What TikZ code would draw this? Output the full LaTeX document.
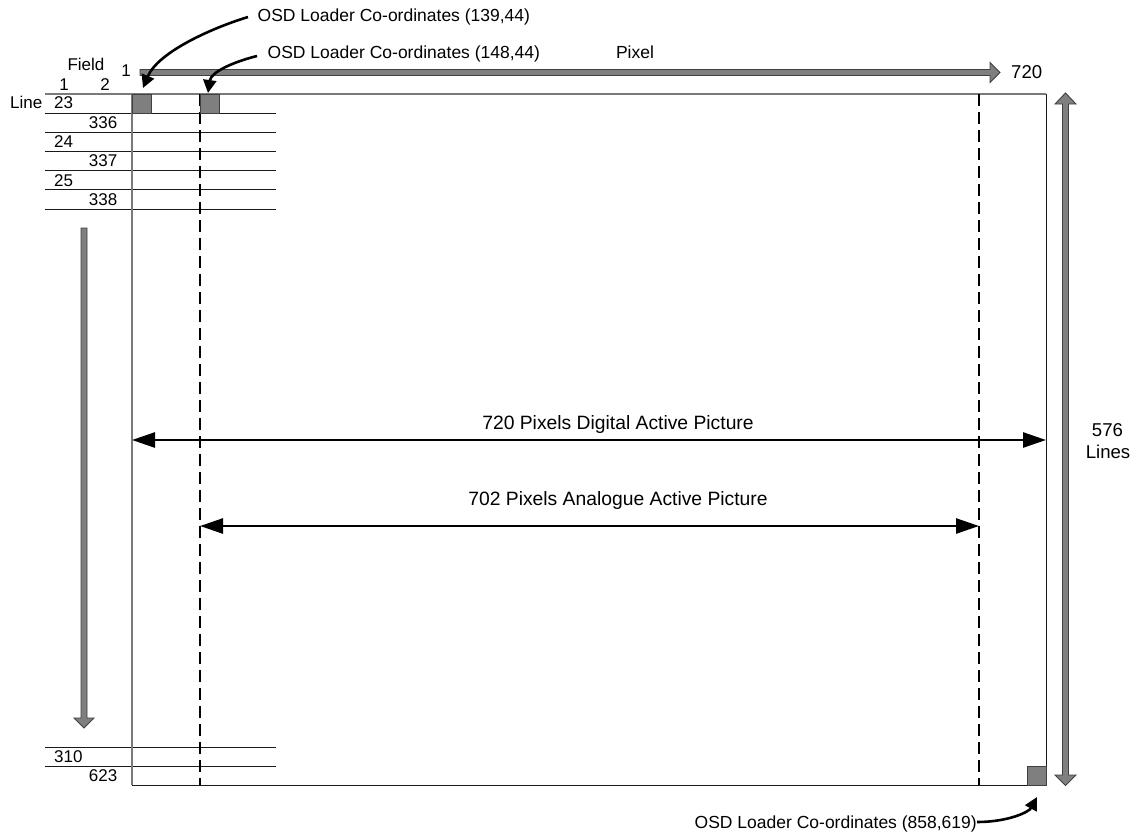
\documentclass[tikz,border=0pt]{standalone}
\usepackage{fontspec}
\setmainfont{Liberation Sans}
\usetikzlibrary{arrows.meta}
\definecolor{fillgray}{HTML}{7F7F7F}
\definecolor{edgegray}{HTML}{404040}
\definecolor{linegray}{HTML}{1A1A1A}
\definecolor{softgray}{HTML}{7A7A7A}
\begin{document}
\begin{tikzpicture}[x=1pt,y=-1pt,
  font=\fontsize{17.5}{20}\selectfont,
  txt/.style={inner sep=0pt},
  tab/.style={inner sep=0pt,font=\fontsize{17}{20}\selectfont},
  big/.style={inner sep=0pt,font=\fontsize{18.6}{22}\selectfont},
  spanlab/.style={inner sep=0pt,font=\fontsize{19.3}{22}\selectfont},
  thin line/.style={draw=linegray,line width=1pt},
  soft line/.style={draw=softgray,line width=1.3pt},
  dash line/.style={draw=black,line width=1.4pt,dash pattern=on 12pt off 6pt},
  block/.style={fill=fillgray,draw=edgegray,line width=0.9pt},
  osd/.style={fill=fillgray,draw=edgegray,line width=0.7pt},
  callout/.style={draw=black,line width=2.6pt,-{Triangle[length=13pt,width=13pt]}},
  span/.style={draw=black,line width=2.6pt,{Triangle[length=23pt,width=15pt]}-{Triangle[length=23pt,width=15pt]}}]
\useasboundingbox (0,0) rectangle (1146,836);

% table lines (left)
\foreach \y in {113,132,151,170,189,209,747,766}
  \draw[thin line] (45,\y) -- (276,\y);
% main rectangle
\draw[thin line] (1046,94) -- (1046,785) -- (132,785);
\draw[soft line] (45,94) -- (1046,94);
\draw[soft line] (132,94) -- (132,785);
% dashed lines
\draw[dash line] (200,94) -- (200,785);
\draw[dash line] (979,94) -- (979,785);

% OSD squares
\draw[osd] (132,94) rectangle (151,113);
\draw[osd] (200,94) rectangle (219,113);
\draw[osd] (1027,766) rectangle (1046,785);
\coordinate (sq1) at (143,88);
\coordinate (sq2) at (208,93);
\coordinate (sq3) at (1037,797);

% block arrows
\draw[block] (140,69.5) -- (990,69.5) -- (990,62.5) -- (1000,72.5) -- (990,82.5) -- (990,75.5) -- (140,75.5) -- cycle;
\draw[block] (81,228) -- (87,228) -- (87,718) -- (94,718) -- (84,728) -- (74,718) -- (81,718) -- cycle;
\draw[block] (1065.5,93) -- (1076,104) -- (1068.5,104) -- (1068.5,775) -- (1076,775) -- (1065.5,785.5) -- (1055,775) -- (1062.5,775) -- (1062.5,104) -- (1055,104) -- cycle;

% span arrows
\coordinate (d1) at (132,440);
\coordinate (d2) at (1046,440);
\coordinate (a1) at (200,526);
\coordinate (a2) at (979,526);
\draw[span] (d1) -- (d2);
\draw[span] (a1) -- (a2);
\node[spanlab,anchor=base] (dlab) at (618,429.3) {720 Pixels Digital Active Picture};
\node[spanlab,anchor=base] (alab) at (618,505) {702 Pixels Analogue Active Picture};

% labels
\node[txt,anchor=base] (pixel) at (635,58) {Pixel};
\node[big,anchor=base west] (p720) at (1011,78.3) {720};
\node[tab,anchor=base] (p1) at (126,76.7) {1};
\node[tab,anchor=base] (field) at (86,70) {Field};
\node[tab,anchor=base] (f1) at (64,90) {1};
\node[tab,anchor=base] (f2) at (105,90) {2};
\node[tab,anchor=base east] (line) at (42.5,108.3) {Line};
\node[big,anchor=base] (l576) at (1107.5,436.7) {576};
\node[big,anchor=base] (llines) at (1108,458.3) {Lines};

\foreach \t/\y in {23/108.3,24/147.3,25/186,310/762.3}
  \node[tab,anchor=base west] at (54,\y) {\t};
\foreach \t/\y in {336/128.3,337/166.7,338/205,623/781.7}
  \node[tab,anchor=base east] at (117.5,\y) {\t};

% callouts
\node[txt,anchor=base west] (c1) at (257.5,21.7) {OSD Loader Co-ordinates (139,44)};
\node[txt,anchor=base west] (c2) at (267.5,58.3) {OSD Loader Co-ordinates (148,44)};
\node[txt,anchor=base east] (c3) at (977,828) {OSD Loader Co-ordinates (858,619)};
\coordinate (c1s) at (248,17);
\coordinate (c2s) at (257,56);
\coordinate (c3s) at (977,822);
\draw[callout] (c1s) .. controls (212,28) and (158,52) .. (sq1);
\draw[callout] (c2s) .. controls (233,62) and (211,72) .. (sq2);
\draw[callout] (c3s) .. controls (1008,822) and (1029,812) .. (sq3);
\end{tikzpicture}
\end{document}
